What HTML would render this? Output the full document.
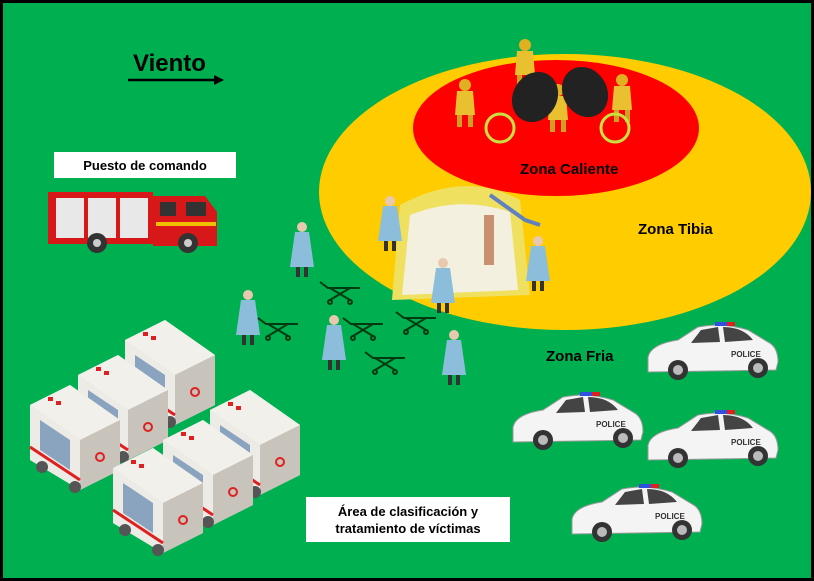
<!DOCTYPE html>
<html><head><meta charset="utf-8"><style>
body{margin:0;background:#fff}
svg{display:block}
text{font-family:"Liberation Sans",sans-serif;font-weight:bold}
</style></head><body>
<svg width="814" height="581" viewBox="0 0 814 581" xmlns="http://www.w3.org/2000/svg">
<defs>
<g id="amb">
 <polygon points="0,20 40,0 90,35 90,85 50,105 0,75" fill="#dcd8d0"/>
 <polygon points="0,20 40,0 90,35 50,55" fill="#f2f0ea"/>
 <polygon points="50,55 90,35 90,85 50,105" fill="#c8c4bc"/>
 <polygon points="0,20 50,55 50,105 0,75" fill="#ecebe6"/>
 <polygon points="10,35 40,55 40,85 10,65" fill="#8aa4c0"/>
 <line x1="0" y1="62" x2="50" y2="95" stroke="#e02020" stroke-width="3"/>
 <rect x="18" y="12" width="5" height="4" fill="#e02020"/><rect x="26" y="16" width="5" height="4" fill="#e02020"/>
 <circle cx="70" cy="72" r="4" fill="none" stroke="#e02020" stroke-width="2"/>
 <circle cx="12" cy="82" r="6" fill="#555"/><circle cx="45" cy="102" r="6" fill="#555"/>
</g>
<g id="car">
 <path d="M5,35 Q8,22 35,18 L55,5 Q80,0 105,8 L125,20 Q135,25 135,40 L133,48 L5,50 Z" fill="#f4f4f4" stroke="#999"/>
 <path d="M58,8 L75,5 L77,20 L48,21 Z M80,5 Q100,5 110,18 L82,20 Z" fill="#444"/>
 <rect x="72" y="0" width="20" height="4" fill="#3050e0"/><rect x="84" y="0" width="8" height="4" fill="#e02020"/>
 <circle cx="35" cy="48" r="10" fill="#333"/><circle cx="35" cy="48" r="5" fill="#bbb"/>
 <circle cx="115" cy="46" r="10" fill="#333"/><circle cx="115" cy="46" r="5" fill="#bbb"/>
 <text x="88" y="35" font-size="8" font-weight="normal" fill="#333">POLICE</text>
</g>
<g id="doc">
 <circle cx="10" cy="5" r="5" fill="#e8c8b0"/>
 <path d="M3,10 L17,10 L22,45 L-2,45 Z" fill="#8cbedc"/>
 <rect x="4" y="45" width="4" height="10" fill="#333"/><rect x="12" y="45" width="4" height="10" fill="#333"/>
</g>
<g id="str" stroke="#003a10" stroke-width="2" fill="none">
 <path d="M0,0 L8,6 L40,6"/><path d="M10,6 L30,18 M30,6 L10,18"/><circle cx="10" cy="20" r="2"/><circle cx="30" cy="20" r="2"/>
</g>
<g id="haz">
 <circle cx="10" cy="5" r="6" fill="#e0b020"/>
 <path d="M2,11 L18,11 L20,35 L0,35 Z" fill="#e8c030"/>
 <rect x="2" y="35" width="5" height="12" fill="#d0a020"/><rect x="13" y="35" width="5" height="12" fill="#d0a020"/>
</g>
</defs>
<rect x="0" y="0" width="814" height="581" fill="#000"/>
<rect x="3" y="3" width="808" height="575" fill="#00b050"/>
<ellipse cx="565" cy="192" rx="246" ry="138" fill="#ffcc00"/>
<ellipse cx="556" cy="128" rx="143" ry="68" fill="#ff0000"/>
<!-- hot zone items -->
<use href="#haz" x="515" y="40"/><use href="#haz" x="455" y="80"/><use href="#haz" x="612" y="75"/><use href="#haz" x="548" y="85"/>
<ellipse cx="535" cy="97" rx="22" ry="26" fill="#222" transform="rotate(30 535 97)"/>
<ellipse cx="585" cy="92" rx="22" ry="26" fill="#222" transform="rotate(-30 585 92)"/>
<circle cx="500" cy="128" r="14" fill="none" stroke="#c8e040" stroke-width="3"/>
<circle cx="615" cy="128" r="14" fill="none" stroke="#c8e040" stroke-width="3"/>
<text x="520" y="174" font-size="15" fill="#000">Zona Caliente</text>
<text x="638" y="234" font-size="15" fill="#000">Zona Tibia</text>
<text x="546" y="361" font-size="15" fill="#000">Zona Fria</text>
<!-- tent -->
<path d="M392,300 L400,205 Q465,170 520,200 L530,295 Z" fill="#f0e060"/>
<path d="M402,295 L410,215 Q460,195 510,212 L518,290 Z" fill="#f4f0e0"/>
<path d="M490,195 L525,220 L540,225" stroke="#6080c0" stroke-width="4" fill="none"/>
<rect x="484" y="215" width="10" height="50" fill="#c89070"/>
<use href="#doc" x="380" y="196"/><use href="#doc" x="433" y="258"/><use href="#doc" x="528" y="236"/>
<!-- Viento -->
<text x="133" y="71" font-size="24" fill="#000">Viento</text>
<line x1="128" y1="80" x2="216" y2="80" stroke="#000" stroke-width="2.5"/>
<polygon points="214,75 224,80 214,85" fill="#000"/>
<!-- puesto -->
<rect x="54" y="152" width="182" height="26" fill="#fff"/>
<text x="145" y="170" font-size="13" text-anchor="middle" fill="#000">Puesto de comando</text>
<!-- fire truck -->
<rect x="48" y="192" width="105" height="52" fill="#d81818"/>
<path d="M153,196 L205,196 L217,212 L217,246 L153,246 Z" fill="#d81818"/>
<rect x="56" y="198" width="28" height="40" fill="#e8e8e8"/><rect x="88" y="198" width="28" height="40" fill="#e8e8e8"/><rect x="120" y="198" width="28" height="40" fill="#e8e8e8"/>
<rect x="160" y="202" width="16" height="14" fill="#333"/><rect x="186" y="202" width="20" height="14" fill="#333"/>
<rect x="156" y="222" width="60" height="4" fill="#f0c000"/>
<circle cx="97" cy="243" r="10" fill="#333"/><circle cx="97" cy="243" r="4" fill="#ccc"/>
<circle cx="188" cy="243" r="10" fill="#333"/><circle cx="188" cy="243" r="4" fill="#ccc"/>
<!-- medics & stretchers -->
<use href="#doc" x="292" y="222"/><use href="#doc" x="238" y="290"/><use href="#doc" x="324" y="315"/><use href="#doc" x="444" y="330"/>
<use href="#str" x="320" y="282"/><use href="#str" x="258" y="318"/><use href="#str" x="343" y="318"/><use href="#str" x="396" y="312"/><use href="#str" x="365" y="352"/>
<!-- ambulances -->
<use href="#amb" x="125" y="320"/><use href="#amb" x="78" y="355"/><use href="#amb" x="30" y="385"/>
<use href="#amb" x="210" y="390"/><use href="#amb" x="163" y="420"/><use href="#amb" x="113" y="448"/>
<!-- police -->
<use href="#car" x="643" y="322"/><use href="#car" x="508" y="392"/><use href="#car" x="643" y="410"/><use href="#car" x="567" y="484"/>
<!-- area label -->
<rect x="306" y="497" width="204" height="45" fill="#fff"/>
<text x="408" y="516" font-size="13" text-anchor="middle" fill="#000">Área de clasificación y</text>
<text x="408" y="533" font-size="13" text-anchor="middle" fill="#000">tratamiento de víctimas</text>
</svg>
</body></html>
